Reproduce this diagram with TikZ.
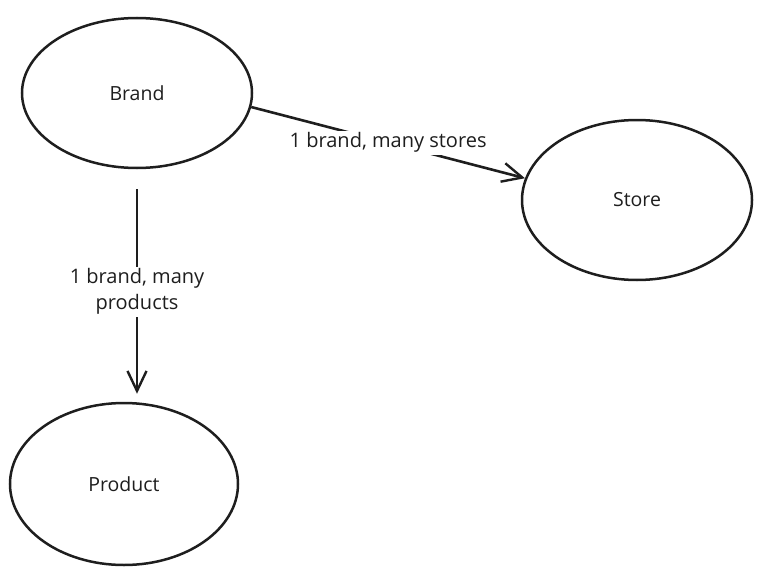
\documentclass[tikz,border=0pt]{standalone}
\usepackage{fontspec}
\setmainfont{Open Sans}
\usetikzlibrary{shapes.geometric,arrows.meta}
\definecolor{ink}{HTML}{1E1E1E}

\begin{document}
\begin{tikzpicture}[x=1pt,y=-1pt,
    ent/.style={ellipse,draw=ink,line width=2.5pt,text=ink,
      minimum width=230pt,minimum height=150pt,inner sep=0pt,
      font=\fontsize{19.5}{22}\selectfont},
    rel/.style={draw=ink,line width=2.6pt,
      -{Straight Barb[length=20pt,width=19pt,line width=2.4pt]}},
    lbl/.style={fill=white,text=ink,inner sep=2pt,align=center,
      font=\fontsize{20}{26}\selectfont}]
 \useasboundingbox (0,0) rectangle (760,578);
 \node[ent] (brand) at (137,93) {Brand};
 \node[ent,minimum height=160pt] (store) at (637,200) {Store};
 \node[ent,minimum width=228pt,minimum height=162pt] (product) at (124,484) {Product};
 \path[rel] (brand.-7) -- node[lbl] (bs) {1 brand, many stores} (store.169);
 \path[rel] ([yshift=-20pt]brand.south) -- node[lbl] (bp) {1 brand, many\\products} ([xshift=13pt,yshift=8pt]product.north);
\end{tikzpicture}
\end{document}
